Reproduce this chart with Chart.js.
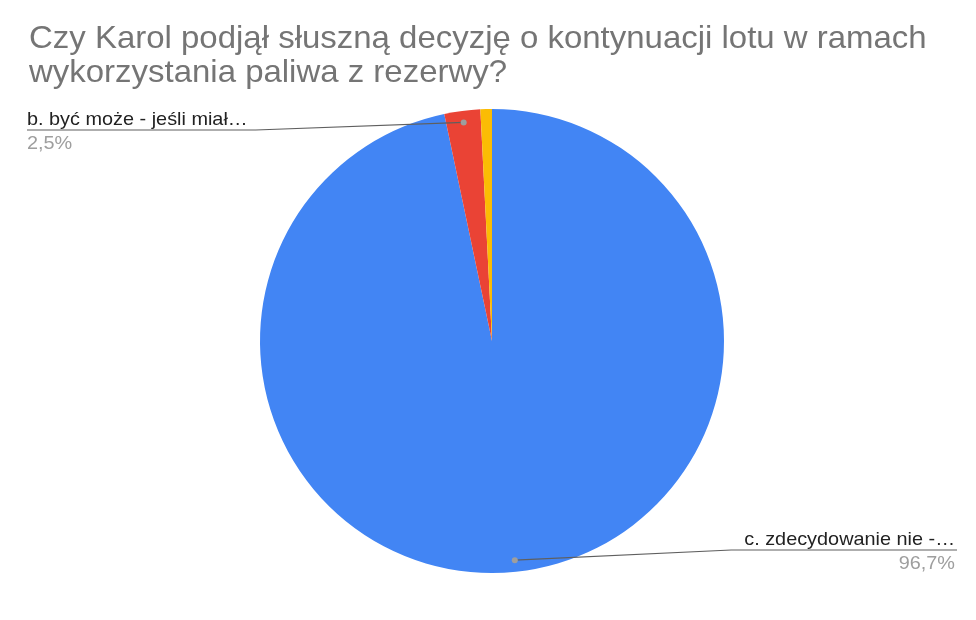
<!DOCTYPE html>
<html>
<head>
<meta charset="utf-8">
<script src="https://cdn.jsdelivr.net/npm/chart.js@4/dist/chart.umd.min.js"></script>
<style>
  html, body { margin: 0; padding: 0; background: #fff; }
  #wrap { width: 976px; height: 620px; position: relative; }
</style>
</head>
<body>
<div id="wrap"><canvas id="wykres"></canvas></div>
<script>
// dane z wykresu
const tytul = ['Czy Karol podjął słuszną decyzję o kontynuacji lotu w ramach', 'wykorzystania paliwa z rezerwy?'];
const kategorie = ['c. zdecydowanie nie -…', 'b. być może - jeśli miał…', 'a. tak'];
const wartosci = [96.7, 2.5, 0.8];
const kolory = ['#4285F4', '#EA4335', '#FBBC04'];

// etykiety z linią prowadzącą (tylko dwa większe wycinki, jak w oryginale)
const opisy = [
  { idx: 0, strona: 'prawa', x: 955, y: 545 },
  { idx: 1, strona: 'lewa', x: 27, y: 125 }
];

const procent = v => {
  const suma = wartosci.reduce((a, b) => a + b, 0);
  return (v / suma * 100).toFixed(1).replace('.', ',') + '%';
};

// tekst lekko rozciągnięty w poziomie, jak na oryginale
function pisz(ctx, txt, x, y, sx) {
  ctx.save();
  ctx.translate(x, y);
  ctx.scale(sx, 1);
  ctx.fillText(txt, 0, 0);
  ctx.restore();
  return ctx.measureText(txt).width * sx;
}

const opisyPlugin = {
  id: 'opisy',
  afterDraw(chart) {
    const ctx = chart.ctx;
    ctx.save();
    // tytuł
    ctx.fillStyle = '#757575';
    ctx.font = '32px "Liberation Sans", Arial, sans-serif';
    ctx.textAlign = 'left';
    ctx.textBaseline = 'alphabetic';
    pisz(ctx, tytul[0], 29, 48, 1.03);
    pisz(ctx, tytul[1], 29, 82, 1.03);

    const meta = chart.getDatasetMeta(0);
    const sx = 1.045;
    opisy.forEach(o => {
      const luk = meta.data[o.idx];
      const kat = (luk.startAngle + luk.endAngle) / 2;
      const r = luk.outerRadius * 0.95;
      const px = luk.x + Math.cos(kat) * r;
      const py = luk.y + Math.sin(kat) * r;

      ctx.font = '19px "Liberation Sans", Arial, sans-serif';
      ctx.textAlign = 'left';
      const szer = ctx.measureText(kategorie[o.idx]).width * sx;
      const liniaY = o.y + 5;
      let x0, x1;
      if (o.strona === 'lewa') { x0 = o.x; x1 = o.x + szer + 8; }
      else { x1 = o.x + 2; x0 = o.x - szer - 13; }

      ctx.strokeStyle = '#5f5f5f';
      ctx.lineWidth = 1.2;
      ctx.beginPath();
      if (o.strona === 'lewa') {
        ctx.moveTo(x0, liniaY);
        ctx.lineTo(x1, liniaY);
        ctx.lineTo(px, py);
      } else {
        ctx.moveTo(x1, liniaY);
        ctx.lineTo(x0, liniaY);
        ctx.lineTo(px, py);
      }
      ctx.stroke();

      ctx.fillStyle = '#9e9e9e';
      ctx.beginPath();
      ctx.arc(px, py, 3, 0, Math.PI * 2);
      ctx.fill();

      const pr = procent(wartosci[o.idx]);
      const szerPr = ctx.measureText(pr).width * sx;
      const xt = o.strona === 'lewa' ? o.x : o.x - szer;
      const xp = o.strona === 'lewa' ? o.x : o.x - szerPr;
      ctx.fillStyle = '#222';
      pisz(ctx, kategorie[o.idx], xt, o.y, sx);
      ctx.fillStyle = '#9e9e9e';
      pisz(ctx, pr, xp, o.y + 24, sx);
    });
    ctx.restore();
  }
};

new Chart(document.getElementById('wykres'), {
  type: 'pie',
  data: {
    labels: kategorie,
    datasets: [{
      data: wartosci,
      backgroundColor: kolory,
      borderWidth: 0
    }]
  },
  options: {
    responsive: true,
    maintainAspectRatio: false,
    animation: false,
    layout: { padding: { top: 109, bottom: 47, left: 260, right: 252 } },
    plugins: {
      legend: { display: false },
      tooltip: { enabled: false },
      title: { display: false }
    }
  },
  plugins: [opisyPlugin]
});
</script>
</body>
</html>
